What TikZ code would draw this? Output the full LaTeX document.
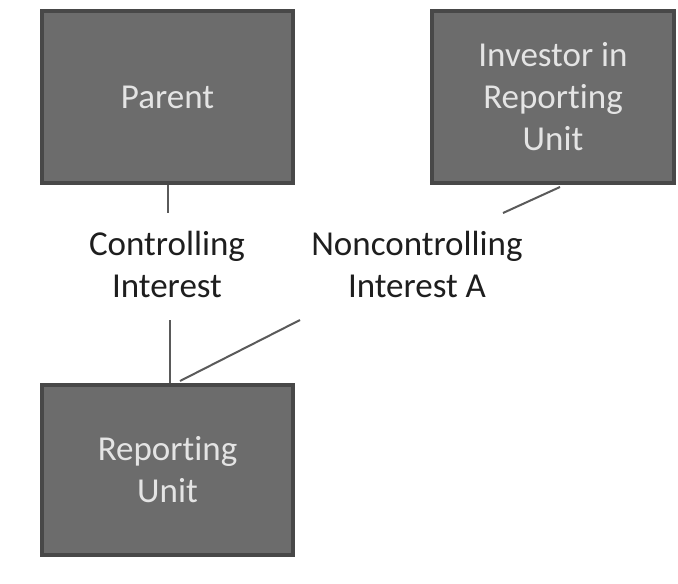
\documentclass[tikz,border=0pt]{standalone}
\usepackage{fontspec}
\setmainfont{Carlito}[Ligatures=NoCommon]
\definecolor{boxfill}{HTML}{6C6C6C}
\definecolor{boxline}{HTML}{484848}
\definecolor{boxtext}{HTML}{E4E4E4}
\definecolor{linkcol}{HTML}{5A5A5A}
\definecolor{labtext}{HTML}{1E1E1E}
\begin{document}
\begin{tikzpicture}[x=1pt,y=-1pt,
  entity/.style={draw=boxline,line width=4pt,fill=boxfill,text=boxtext,
    align=center,inner sep=0pt,font=\fontsize{35}{42}\selectfont},
  label/.style={text=labtext,align=center,inner sep=0pt,font=\fontsize{35}{42}\selectfont},
  link/.style={draw=linkcol,line width=2pt}]
\useasboundingbox[fill=white] (0,0) rectangle (678,584);
\node[entity,minimum width=251pt,minimum height=172pt] (parent) at (167.5,97) {Parent};
\node[entity,minimum width=242pt,minimum height=172pt] (investor) at (553,97) {Investor in\\Reporting\\Unit};
\node[entity,minimum width=251pt,minimum height=170pt] (ru) at (167.5,470) {Reporting\\Unit};
\node[label] (ci) at (167,264) {Controlling\\Interest};
\node[label] (nci) at (417,264) {Noncontrolling\\Interest A};
\coordinate (c1) at (168,213);
\coordinate (c2) at (170,320);
\coordinate (n1) at (503,213);
\coordinate (n2) at (300,320);
\coordinate (ruA) at (180,381);
\coordinate (invA) at (560,187);
\draw[link] (parent.south -| c1) -- (c1);
\draw[link] (c2) -- (ru.north -| c2);
\draw[link] (invA) -- (n1);
\draw[link] (n2) -- (ruA);
\end{tikzpicture}
\end{document}
